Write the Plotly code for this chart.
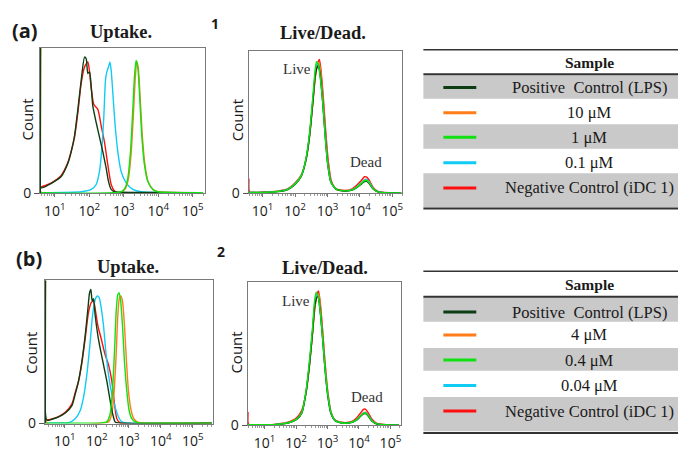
import plotly.graph_objects as go

# ---------------- data (log10 fluorescence, relative count) ----------------
SERIES_NAMES_A = ["Positive  Control (LPS)", "10 μM", "1 μM", "0.1 μM", "Negative Control (iDC 1)"]
SERIES_NAMES_B = ["Positive  Control (LPS)", "4 μM", "0.4 μM", "0.04 μM", "Negative Control (iDC 1)"]
SERIES_COLORS = ["#0d3d12", "#ff7d1a", "#11e011", "#10ccf5", "#ff1010"]
TICK_VALUES = [10, 100, 1000, 10000, 100000]
TICK_TEXT = ["10<sup>1</sup>", "10<sup>2</sup>", "10<sup>3</sup>", "10<sup>4</sup>", "10<sup>5</sup>"]

# Panel (a) uptake
A_UP_LPS_LOG = [0.575, 0.585, 0.604, 0.797, 0.990, 1.183, 1.377, 1.473, 1.570, 1.666, 1.763, 1.860, 1.908, 1.956, 2.005, 2.053, 2.101, 2.198, 2.294, 2.391, 2.488, 2.555, 2.633, 2.729, 3.5, 5.3]
A_UP_LPS_CNT = [0, 110, 3.9, 5.8, 8.6, 12.2, 21.8, 30.1, 42.1, 61.2, 82.6, 99.4, 98.2, 87.4, 88.6, 77.9, 63.5, 51.6, 40.9, 30.1, 18.2, 8.6, 2.7, 1.0, 0.5, 0.3]
A_UP_HI_LOG = [0.575, 0.585, 0.604, 2.94, 3.05, 3.13, 3.21, 3.28, 3.33, 3.375, 3.42, 3.47, 3.54, 3.62, 3.71, 3.86, 4.0, 5.3]
A_UP_HI_CNT = [0, 110, 0.5, 1.0, 3.5, 10.0, 28.0, 58.0, 83.0, 96.0, 91.0, 72.0, 41.0, 19.5, 8.0, 2.5, 1.0, 0.3]
A_UP_MID_LOG = [0.6, 2.922, 3.038, 3.116, 3.193, 3.261, 3.309, 3.357, 3.406, 3.454, 3.521, 3.599, 3.695, 3.840, 3.985, 5.3]
A_UP_MID_CNT = [0.3, 1.0, 3.9, 11.0, 30.1, 61.2, 85.0, 97.0, 92.2, 73.1, 42.1, 20.6, 8.6, 2.7, 1.0, 0.3]
A_UP_LO_LOG = [0.6, 1.763, 2.053, 2.198, 2.294, 2.362, 2.420, 2.468, 2.507, 2.555, 2.594, 2.633, 2.681, 2.749, 2.826, 2.922, 3.067, 3.261, 3.502, 5.3]
A_UP_LO_CNT = [0.3, 1.0, 2.7, 6.3, 15.8, 32.5, 56.4, 82.6, 88.6, 92.2, 95.8, 89.8, 73.1, 49.2, 30.1, 15.8, 7.5, 2.7, 1.0, 0.3]
A_UP_NEG_LOG = [0.604, 0.797, 0.990, 1.183, 1.377, 1.473, 1.570, 1.666, 1.763, 1.860, 1.956, 2.005, 2.053, 2.130, 2.246, 2.343, 2.439, 2.536, 2.633, 2.729, 2.826, 3.5, 5.3]
A_UP_NEG_CNT = [4.5, 6.3, 9.0, 13.0, 22.5, 30.8, 40.9, 58.8, 80.3, 92.2, 95.8, 88.6, 76.7, 64.7, 61.2, 49.2, 37.3, 20.6, 6.3, 1.5, 0.3, 0.2, 0.2]

# Panel (a) live/dead
A_LD_LPS_LOG = [0.57, 1.06, 1.47, 1.78, 1.99, 2.19, 2.34, 2.45, 2.55, 2.62, 2.68, 2.72, 2.77, 2.84, 2.92, 3.00, 3.10, 3.26, 3.52, 3.73, 3.88, 4.04, 4.14, 4.21, 4.29, 4.40, 4.55, 4.75, 5.27]
A_LD_LPS_CNT = [0.4, 0.5, 1.1, 2.7, 6.3, 12.5, 25.5, 44.0, 69.0, 88.0, 94.5, 96.0, 90.0, 72.0, 46.0, 23.0, 8.5, 3.0, 1.6, 2.1, 3.8, 6.8, 8.6, 8.8, 7.0, 3.3, 1.0, 0.4, 0.2]
A_LD_HI_LOG = [0.57, 1.06, 1.47, 1.78, 1.99, 2.19, 2.34, 2.45, 2.55, 2.63, 2.69, 2.74, 2.79, 2.86, 2.93, 3.01, 3.11, 3.27, 3.52, 3.73, 3.88, 4.04, 4.14, 4.21, 4.29, 4.40, 4.55, 4.75, 5.27]
A_LD_HI_CNT = [0.5, 0.6, 1.4, 3.2, 7.2, 13.5, 26.0, 44.5, 70.0, 89.5, 96.5, 98.0, 91.5, 71.0, 46.5, 23.5, 8.4, 3.0, 1.8, 2.4, 4.3, 8.0, 10.2, 10.4, 8.2, 3.8, 1.1, 0.4, 0.2]
A_LD_MID_LOG = [0.57, 1.06, 1.47, 1.78, 1.99, 2.19, 2.34, 2.45, 2.55, 2.62, 2.66, 2.72, 2.78, 2.86, 2.93, 3.01, 3.11, 3.27, 3.52, 3.73, 3.88, 4.04, 4.14, 4.21, 4.29, 4.40, 4.55, 4.75, 5.27]
A_LD_MID_CNT = [0.5, 0.6, 1.2, 2.9, 6.6, 12.8, 26.3, 45.9, 72.9, 92.6, 98.7, 96.0, 86.0, 66.0, 42.0, 21.0, 7.9, 2.9, 1.7, 2.2, 4.0, 7.2, 9.3, 9.5, 7.5, 3.5, 1.0, 0.4, 0.2]
A_LD_LO_LOG = [0.57, 1.06, 1.47, 1.78, 1.99, 2.19, 2.34, 2.45, 2.55, 2.62, 2.67, 2.71, 2.77, 2.85, 2.93, 3.01, 3.11, 3.27, 3.52, 3.73, 3.88, 4.04, 4.14, 4.21, 4.29, 4.40, 4.55, 4.75, 5.27]
A_LD_LO_CNT = [0.5, 0.6, 1.3, 3.0, 6.8, 13.0, 26.0, 45.0, 71.0, 90.5, 96.0, 97.0, 89.0, 69.0, 44.0, 22.0, 8.0, 2.9, 1.8, 2.3, 4.2, 7.8, 10.0, 10.3, 8.0, 3.7, 1.1, 0.4, 0.2]
A_LD_NEG_LOG = [0.572, 0.578, 0.60, 1.06, 1.47, 1.78, 1.99, 2.19, 2.34, 2.45, 2.55, 2.63, 2.70, 2.75, 2.80, 2.87, 2.94, 3.02, 3.12, 3.27, 3.52, 3.73, 3.88, 4.04, 4.14, 4.21, 4.29, 4.40, 4.55, 4.75, 5.27]
A_LD_NEG_CNT = [0, 10.5, 1.0, 0.8, 1.5, 3.4, 7.5, 13.5, 25.0, 43.0, 68.0, 88.0, 98.0, 100.4, 92.0, 72.0, 48.0, 25.0, 9.0, 3.2, 2.0, 2.8, 5.5, 9.5, 12.3, 12.0, 9.5, 4.5, 1.3, 0.5, 0.2]

# Panel (b) uptake
B_UP_LPS_LOG = [0.385, 0.395, 0.437, 0.594, 0.802, 1.010, 1.219, 1.323, 1.427, 1.531, 1.635, 1.719, 1.771, 1.812, 1.854, 1.896, 1.948, 2.031, 2.104, 2.208, 2.312, 2.416, 2.489, 2.573, 2.677, 5.6]
B_UP_LPS_CNT = [0, 110, 2.4, 3.2, 4.9, 7.8, 13.4, 21.9, 31.7, 46.3, 65.8, 85.3, 97.5, 100.0, 91.4, 93.1, 80.4, 65.8, 56.1, 43.9, 31.7, 17.1, 7.8, 1.2, 0.5, 0.3]
B_UP_HI_LOG = [0.385, 0.395, 0.44, 2.208, 2.364, 2.469, 2.541, 2.604, 2.656, 2.708, 2.750, 2.802, 2.864, 2.927, 2.989, 3.073, 3.156, 3.260, 3.406, 5.6]
B_UP_HI_CNT = [0, 110, 0.5, 0.5, 1.2, 7.3, 24.4, 51.2, 80.4, 93.9, 95.1, 91.4, 73.1, 46.3, 24.4, 9.7, 3.6, 1.2, 0.5, 0.3]
B_UP_MID_LOG = [0.4, 2.156, 2.312, 2.416, 2.489, 2.552, 2.604, 2.656, 2.698, 2.740, 2.802, 2.864, 2.937, 3.010, 3.094, 3.198, 3.354, 5.6]
B_UP_MID_CNT = [0.3, 0.5, 1.2, 7.3, 24.4, 53.6, 82.9, 96.3, 97.5, 92.6, 73.1, 46.3, 24.4, 9.7, 3.6, 1.2, 0.5, 0.3]
B_UP_LO_LOG = [0.4, 0.906, 1.114, 1.323, 1.479, 1.583, 1.687, 1.791, 1.864, 1.948, 2.010, 2.073, 2.135, 2.208, 2.281, 2.364, 2.469, 2.573, 2.677, 2.781, 2.937, 5.6]
B_UP_LO_CNT = [0.3, 0.5, 0.7, 3.6, 9.7, 19.5, 36.6, 60.9, 80.4, 92.6, 95.1, 93.9, 86.5, 73.1, 53.6, 36.6, 21.9, 12.2, 4.9, 1.2, 0.5, 0.3]
B_UP_NEG_LOG = [0.437, 0.594, 0.802, 1.010, 1.219, 1.323, 1.427, 1.531, 1.635, 1.739, 1.823, 1.896, 1.948, 2.031, 2.135, 2.260, 2.364, 2.469, 2.552, 2.625, 2.729, 5.6]
B_UP_NEG_CNT = [2.6, 3.4, 5.2, 8.3, 14.6, 23.2, 31.7, 45.1, 63.4, 82.9, 90.2, 91.4, 85.3, 73.1, 63.4, 51.2, 43.9, 31.7, 14.6, 3.6, 0.5, 0.3]

# Panel (b) live/dead
B_LD_LPS_LOG = [0.47, 0.968, 1.391, 1.815, 2.026, 2.185, 2.322, 2.428, 2.524, 2.590, 2.650, 2.700, 2.760, 2.835, 2.910, 2.995, 3.100, 3.243, 3.508, 3.772, 3.931, 4.058, 4.143, 4.206, 4.280, 4.407, 4.566, 4.884, 5.254]
B_LD_LPS_CNT = [0.4, 0.5, 0.7, 2.3, 4.7, 9.4, 25.5, 46.0, 69.5, 88.5, 95.0, 96.3, 87.0, 68.0, 45.0, 24.5, 9.5, 3.5, 1.7, 2.3, 4.2, 7.0, 8.6, 8.8, 7.4, 3.4, 1.1, 0.5, 0.3]
B_LD_HI_LOG = [0.47, 0.968, 1.391, 1.815, 2.026, 2.185, 2.322, 2.428, 2.524, 2.595, 2.660, 2.720, 2.775, 2.850, 2.925, 3.010, 3.110, 3.243, 3.508, 3.772, 3.931, 4.058, 4.143, 4.206, 4.280, 4.407, 4.566, 4.884, 5.254]
B_LD_HI_CNT = [0.5, 0.5, 0.8, 2.6, 5.2, 10.3, 25.8, 45.5, 69.0, 88.0, 96.5, 98.0, 88.0, 68.5, 46.0, 25.0, 10.0, 3.7, 1.8, 2.5, 4.6, 7.8, 9.6, 9.9, 8.3, 3.8, 1.3, 0.5, 0.3]
B_LD_MID_LOG = [0.47, 0.968, 1.391, 1.815, 2.026, 2.185, 2.322, 2.428, 2.524, 2.587, 2.640, 2.703, 2.767, 2.841, 2.915, 3.000, 3.106, 3.243, 3.508, 3.772, 3.931, 4.058, 4.143, 4.206, 4.280, 4.407, 4.566, 4.884, 5.254]
B_LD_MID_CNT = [0.5, 0.5, 0.7, 2.4, 4.9, 9.7, 26.8, 48.8, 73.1, 92.6, 99.5, 96.3, 85.3, 65.8, 43.9, 24.4, 9.7, 3.6, 1.7, 2.4, 4.4, 7.3, 9.0, 9.3, 7.8, 3.6, 1.2, 0.5, 0.3]
B_LD_LO_LOG = [0.47, 0.968, 1.391, 1.815, 2.026, 2.185, 2.322, 2.428, 2.524, 2.590, 2.645, 2.705, 2.765, 2.840, 2.915, 3.000, 3.106, 3.243, 3.508, 3.772, 3.931, 4.058, 4.143, 4.206, 4.280, 4.407, 4.566, 4.884, 5.254]
B_LD_LO_CNT = [0.5, 0.5, 0.7, 2.4, 4.8, 9.6, 26.0, 47.5, 71.5, 90.5, 97.0, 95.5, 85.0, 66.0, 44.0, 24.5, 9.8, 3.6, 1.7, 2.4, 4.4, 7.4, 9.3, 9.5, 8.0, 3.7, 1.2, 0.5, 0.3]
B_LD_NEG_LOG = [0.465, 0.472, 0.49, 0.968, 1.391, 1.815, 2.026, 2.185, 2.322, 2.428, 2.524, 2.600, 2.665, 2.714, 2.767, 2.841, 2.915, 3.000, 3.106, 3.243, 3.508, 3.772, 3.931, 4.058, 4.143, 4.206, 4.280, 4.407, 4.566, 4.884, 5.254]
B_LD_NEG_CNT = [0, 9.7, 1.0, 0.6, 1.0, 3.0, 6.0, 11.5, 25.0, 45.0, 69.0, 88.0, 97.5, 100.4, 92.0, 72.0, 48.0, 26.5, 10.5, 4.0, 2.2, 3.0, 5.8, 9.6, 12.0, 12.2, 10.0, 4.8, 1.5, 0.5, 0.3]

# ---------------- layout helpers ----------------
W, H = 679, 458
def px(x):
    return x / W
def py(y):
    return 1 - y / H

SERIF = "Liberation Serif"
SANS = "Open Sans"
TXT = "#1a1a1a"

# panel boxes in pixels: (x0, x1, y_top, y_bottom, xrange(log10), ymax)
PANELS = [
    (40, 205, 49, 197, [0.565, 5.348], 106.0),
    (249, 403, 52, 197, [0.569, 5.308], 106.8),
    (45, 213, 286, 432, [0.375, 5.625], 106.8),
    (248, 402, 288, 434, [0.460, 5.349], 106.8),
]

panel_series = [
    [(A_UP_NEG_LOG, A_UP_NEG_CNT, 4), (A_UP_LO_LOG, A_UP_LO_CNT, 3), (A_UP_HI_LOG, A_UP_HI_CNT, 1), (A_UP_LPS_LOG, A_UP_LPS_CNT, 0), (A_UP_MID_LOG, A_UP_MID_CNT, 2)],
    [(A_LD_NEG_LOG, A_LD_NEG_CNT, 4), (A_LD_HI_LOG, A_LD_HI_CNT, 1), (A_LD_LO_LOG, A_LD_LO_CNT, 3), (A_LD_LPS_LOG, A_LD_LPS_CNT, 0), (A_LD_MID_LOG, A_LD_MID_CNT, 2)],
    [(B_UP_NEG_LOG, B_UP_NEG_CNT, 4), (B_UP_LO_LOG, B_UP_LO_CNT, 3), (B_UP_HI_LOG, B_UP_HI_CNT, 1), (B_UP_LPS_LOG, B_UP_LPS_CNT, 0), (B_UP_MID_LOG, B_UP_MID_CNT, 2)],
    [(B_LD_NEG_LOG, B_LD_NEG_CNT, 4), (B_LD_HI_LOG, B_LD_HI_CNT, 1), (B_LD_LO_LOG, B_LD_LO_CNT, 3), (B_LD_LPS_LOG, B_LD_LPS_CNT, 0), (B_LD_MID_LOG, B_LD_MID_CNT, 2)],
]

fig = go.Figure()
minor_vals = [m * 10 ** k for k in range(0, 6) for m in range(2, 10)]

for i, (x0, x1, yt, yb, xr, ymax) in enumerate(PANELS):
    n = "" if i == 0 else str(i + 1)
    for lg, cnt, ci in panel_series[i]:
        fig.add_trace(go.Scatter(
            x=[10 ** v for v in lg], y=cnt, mode="lines",
            line=dict(color=SERIES_COLORS[ci], width=1.4, shape="spline", smoothing=0.6),
            xaxis="x" + n, yaxis="y" + n, showlegend=False, hoverinfo="skip"))
    fig.layout["xaxis" + n] = dict(
        domain=[px(x0), px(x1)], anchor="y" + n, type="log", range=xr,
        tickmode="array", tickvals=TICK_VALUES, ticktext=TICK_TEXT,
        ticks="outside", ticklen=3, tickcolor="#777", showgrid=False, zeroline=False,
        showline=True, mirror=True, linecolor="#7a7a7a", linewidth=1,
        ticklabelstandoff=2,
        tickfont=dict(family=SANS, size=14, color=TXT),
        minor=dict(tickmode="array", tickvals=minor_vals, ticks="outside", ticklen=2, tickcolor="#999"))
    fig.layout["yaxis" + n] = dict(
        domain=[py(yb), py(yt)], anchor="x" + n, range=[0, ymax],
        tickmode="array", tickvals=[0], ticktext=["0"], ticks="outside", ticklen=5,
        tickcolor="#555", showgrid=False, zeroline=False,
        showline=True, mirror=True, linecolor="#7a7a7a", linewidth=1,
        tickfont=dict(family=SANS, size=14, color=TXT))

ann = []
def note(text, x, y, size, family, bold=False, angle=0, color=TXT, xanchor="center"):
    ann.append(dict(text=("<b>%s</b>" % text) if bold else text, x=px(x), y=py(y),
                    xref="paper", yref="paper", showarrow=False, textangle=angle,
                    xanchor=xanchor, yanchor="middle",
                    font=dict(family=family, size=size, color=color)))

# panel titles and labels
note("(a)", 25, 31, 20, SANS, bold=True)
note("(b)", 29, 264, 20, SANS, bold=True)
note("1", 215, 24, 14, SANS, bold=True)
note("2", 221, 257, 14, SANS, bold=True)
note("Uptake.", 121, 33, 18.5, SERIF, bold=True)
note("Live/Dead.", 323, 34, 18.5, SERIF, bold=True)
note("Uptake.", 128, 272, 18.5, SERIF, bold=True)
note("Live/Dead.", 325, 273, 18.5, SERIF, bold=True)
note("Count", 27, 122, 15, SANS, angle=-90)
note("Count", 237, 123, 15, SANS, angle=-90)
note("Count", 31, 360, 15, SANS, angle=-90)
note("Count", 236, 360, 15, SANS, angle=-90)

# Live / Dead peak labels (data coordinates)
for n, lx, ly, dx, dy in [("2", 2.046, 93.5, 4.2, 23.6), ("4", 2.0, 92.9, 4.24, 21.6)]:
    ann.append(dict(text="Live", x=lx, y=ly, xref="x" + n, yref="y" + n, showarrow=False,
                    font=dict(family=SERIF, size=15, color="#333")))
    ann.append(dict(text="Dead", x=dx, y=dy, xref="x" + n, yref="y" + n, showarrow=False,
                    font=dict(family=SERIF, size=15, color="#333")))

shapes = []
GRAY = "#c9c9c9"
TABLE_X0, TABLE_X1 = 424, 679
SW_X0, SW_X1 = 444, 477
TEXT_X = 590

def table(names, top, head_y, head_line, row_edges, text_ys, bottom):
    for k in range(5):
        if k % 2 == 0:
            shapes.append(dict(type="rect", xref="paper", yref="paper", x0=px(TABLE_X0), x1=px(TABLE_X1),
                               y0=py(row_edges[k + 1]), y1=py(row_edges[k]), fillcolor=GRAY,
                               line=dict(width=0), layer="below"))
        shapes.append(dict(type="line", xref="paper", yref="paper", x0=px(SW_X0), x1=px(SW_X1),
                           y0=py(text_ys[k]), y1=py(text_ys[k]),
                           line=dict(color=SERIES_COLORS[k], width=3)))
        note(names[k], TEXT_X, text_ys[k], 16.5, SERIF)
    for yy, wd in [(top, 1.5), (head_line, 2), (bottom, 2)]:
        shapes.append(dict(type="line", xref="paper", yref="paper", x0=px(TABLE_X0), x1=px(TABLE_X1),
                           y0=py(yy), y1=py(yy), line=dict(color="#333", width=wd)))
    note("Sample", TEXT_X, head_y, 15.5, SERIF, bold=True)

table(SERIES_NAMES_A, 50.7, 63.3, 75.7, [76.7, 100.7, 126.7, 151.7, 176.7, 211.7],
      [89.3, 115, 140, 166, 191.7], 212.7)
table(SERIES_NAMES_B, 276.7, 290.7, 302.7, [303.3, 328.3, 355, 378.3, 405, 440],
      [318.3, 341.7, 367.3, 393.3, 419.3], 441.7)

fig.update_layout(width=W, height=H, margin=dict(l=0, r=0, t=0, b=0),
                  paper_bgcolor="white", plot_bgcolor="white",
                  annotations=ann, shapes=shapes, showlegend=False)
fig.write_html("out.html", config={"displayModeBar": False},
               post_script="document.body.style.margin='0px';document.body.style.padding='0px';")
